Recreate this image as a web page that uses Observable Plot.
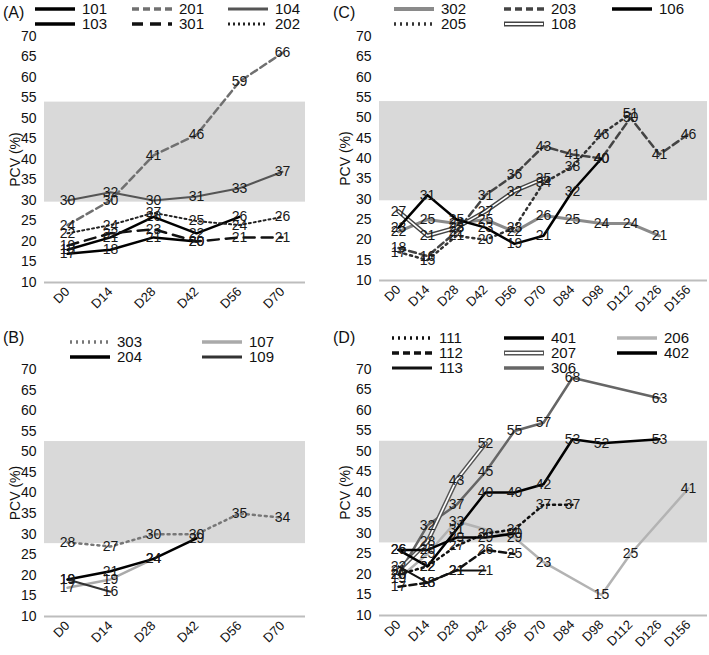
<!DOCTYPE html>
<html>
<head>
<meta charset="utf-8">
<script src="https://cdn.jsdelivr.net/npm/d3@7"></script>
<script src="https://cdn.jsdelivr.net/npm/@observablehq/plot@0.6"></script>
<style>
  body { margin: 0; background: #fff; font-family: "Liberation Sans", Arial, sans-serif; }
  #wrap { position: relative; width: 709px; height: 655px; overflow: hidden; }
  .plabel { position: absolute; font-size: 16px; color: #111; }
  .leg { position: absolute; display: flex; align-items: center; font-size: 15px; line-height: 17px; color: #111; height: 17px; }
  .leg svg { margin-right: 7px; }
  .chart { position: absolute; }
</style>
</head>
<body>
<div id="wrap"></div>
<script>
// days sampled
const daysShort = ["D0", "D14", "D28", "D42", "D56", "D70"];
const daysLong = ["D0", "D14", "D28", "D42", "D56", "D70", "D84", "D98", "D112", "D126", "D156"];

// panel A
const pcv101 = [17, 18, 21, 20];
const pcv103 = [18, 21, 26, 22, 26];
const pcv201 = [24, 30, 41, 46, 59, 66];
const pcv301 = [19, 22, 23, 20, 21, 21];
const pcv104 = [30, 32, 30, 31, 33, 37];
const pcv202 = [22, 24, 27, 25, 24, 26];

// panel B
const pcv303 = [28, 27, 30, 30, 35, 34];
const pcv204 = [19, 21, 24, 29];
const pcv107 = [17, 19, 24];
const pcv109 = [19, 16];

// panel C
const pcv302 = [22, 25, 24, 25, 22, 26, 25, 24, 24, 21];
const pcv203 = [18, 16, 22, 31, 36, 43, 41, 40, 50, 41, 46];
const pcv106 = [23, 31, 25, 23, 19, 21, 32, 40];
const pcv205 = [17, 15, 21, 20, 23, 34, 38, 46, 51];
const pcv108 = [27, 21, 23, 27, 32, 35];

// panel D
const pcv111 = [20, 22, 27, 30, 31, 37, 37];
const pcv112 = [17, 18, 21, 26, 25];
const pcv113 = [22, 18, 21, 21];
const pcv401 = [26, 22, 31, 40, 40, 42, 53, 52, null, 53];
const pcv207 = [21, 28, 43, 52];
const pcv306 = [20, 32, 37, 45, 55, 57, 68, null, null, 63];
const pcv206 = [19, 25, 33, null, 29, 23, null, 15, 25, null, 41];
const pcv402 = [26, 26, 29, 29, 30];

// reference ranges (grey band)
const bandAC = [29.6, 54];
const bandBD = [27.7, 52.5];

const styles = {
  "101": {color: "#000", w: 2.5},
  "103": {color: "#000", w: 2.5},
  "201": {color: "#707070", w: 2.5, dash: "7,4"},
  "301": {color: "#111", w: 2.5, dash: "11,7"},
  "104": {color: "#555", w: 2},
  "202": {color: "#222", w: 2, dash: "2,3"},
  "302": {color: "#8a8a8a", w: 3},
  "203": {color: "#444", w: 2.5, dash: "7,4"},
  "106": {color: "#000", w: 2.5},
  "205": {color: "#333", w: 2.5, dash: "2,4"},
  "108": {color: "#444", w: 4.5, double: true},
  "303": {color: "#777", w: 2.5, dash: "2,4"},
  "107": {color: "#aaa", w: 2.5},
  "204": {color: "#000", w: 2.5},
  "109": {color: "#333", w: 2},
  "111": {color: "#111", w: 2.5, dash: "2,4"},
  "112": {color: "#111", w: 2.5, dash: "7,4"},
  "113": {color: "#111", w: 2},
  "401": {color: "#000", w: 2.5},
  "207": {color: "#555", w: 4.5, double: true},
  "306": {color: "#666", w: 2.5},
  "206": {color: "#b3b3b3", w: 2.5},
  "402": {color: "#000", w: 2.5}
};

const panels = [
  {label: "(A)", lx: 3, ly: 4, days: daysShort, band: bandAC,
   series: [["101", pcv101], ["103", pcv103], ["201", pcv201], ["301", pcv301], ["104", pcv104], ["202", pcv202]],
   legend: [["101", 0, 0], ["201", 1, 0], ["104", 2, 0], ["103", 0, 1], ["301", 1, 1], ["202", 2, 1]],
   cols: [35, 132, 228], rows: [0, 15], legTop: 0,
   left: 0, top: 26, width: 315, mLeft: 44, mRight: 10, area: 246, mBottom: 40, labelOffset: 34},
  {label: "(B)", lx: 3, ly: 329, days: daysShort, band: bandBD,
   series: [["303", pcv303], ["107", pcv107], ["109", pcv109], ["204", pcv204]],
   legend: [["303", 0, 0], ["107", 1, 0], ["204", 0, 1], ["109", 1, 1]],
   cols: [70, 202], rows: [0, 15], legTop: 333,
   left: 0, top: 359, width: 315, mLeft: 44, mRight: 10, area: 247, mBottom: 36, labelOffset: 34},
  {label: "(C)", lx: 333, ly: 4, days: daysLong, band: bandAC,
   series: [["302", pcv302], ["203", pcv203], ["205", pcv205], ["108", pcv108], ["106", pcv106]],
   legend: [["302", 0, 0], ["203", 1, 0], ["106", 2, 0], ["205", 0, 1], ["108", 1, 1]],
   cols: [394, 504, 612], rows: [0, 15], legTop: 0,
   left: 330, top: 26, width: 379, mLeft: 49, mRight: 2, area: 244, mBottom: 42, labelOffset: 39},
  {label: "(D)", lx: 333, ly: 329, days: daysLong, band: bandBD,
   series: [["206", pcv206], ["306", pcv306], ["207", pcv207], ["111", pcv111], ["112", pcv112], ["113", pcv113], ["402", pcv402], ["401", pcv401]],
   legend: [["111", 0, 0], ["401", 1, 0], ["206", 2, 0], ["112", 0, 1], ["207", 1, 1], ["402", 2, 1], ["113", 0, 2], ["306", 1, 2]],
   cols: [392, 504, 617], rows: [0, 15, 30], legTop: 329,
   left: 330, top: 359, width: 379, mLeft: 49, mRight: 2, area: 246, mBottom: 36, labelOffset: 39}
];

const wrap = d3.select("#wrap");

function swatch(sel, st) {
  const svg = sel.append("svg").attr("width", 40).attr("height", 8);
  if (st.double) {
    svg.append("line").attr("x1", 0).attr("x2", 40).attr("y1", 4).attr("y2", 4)
      .attr("stroke", st.color).attr("stroke-width", 5);
    svg.append("line").attr("x1", 1).attr("x2", 39).attr("y1", 4).attr("y2", 4)
      .attr("stroke", "#fff").attr("stroke-width", 2);
  } else {
    svg.append("line").attr("x1", 0).attr("x2", 40).attr("y1", 4).attr("y2", 4)
      .attr("stroke", st.color).attr("stroke-width", st.w + 1)
      .attr("stroke-dasharray", st.dash || null);
  }
}

panels.forEach(p => {
  wrap.append("div").attr("class", "plabel").style("left", p.lx + "px").style("top", p.ly + "px").text(p.label);

  p.legend.forEach(([id, c, r]) => {
    const item = wrap.append("div").attr("class", "leg")
      .style("left", p.cols[c] + "px").style("top", (p.legTop + p.rows[r]) + "px");
    swatch(item, styles[id]);
    item.append("span").text(id);
  });

  const rows = [];
  p.series.forEach(([id, vals]) => vals.forEach((v, i) => {
    if (v != null) rows.push({id, day: p.days[i], v});
  }));

  const marks = [
    Plot.rect([p.band], {y1: d => d[0], y2: d => d[1], fill: "#d9d9d9"}),
    Plot.ruleY([10], {stroke: "#bdbdbd", strokeWidth: 2})
  ];
  p.series.forEach(([id]) => {
    const st = styles[id];
    const data = rows.filter(d => d.id === id);
    marks.push(Plot.line(data, {x: "day", y: "v", stroke: st.color, strokeWidth: st.w, strokeDasharray: st.dash}));
    if (st.double) marks.push(Plot.line(data, {x: "day", y: "v", stroke: "#fff", strokeWidth: 1.6}));
  });
  marks.push(Plot.text(rows, {x: "day", y: "v", text: "v", fontSize: 14, fill: "#1a1a1a"}));
  marks.push(Plot.axisY({ticks: d3.range(10, 71, 5), tickSize: 0, tickPadding: 8, fontSize: 14,
    label: "PCV (%)", labelAnchor: "center", labelArrow: "none", labelOffset: p.labelOffset}));
  marks.push(Plot.axisX({tickRotate: -45, tickSize: 0, tickPadding: 7, fontSize: 13, label: null}));

  const chart = Plot.plot({
    width: p.width,
    height: 10 + p.area + p.mBottom,
    marginTop: 10,
    marginLeft: p.mLeft,
    marginRight: p.mRight,
    marginBottom: p.mBottom,
    style: {fontFamily: "Liberation Sans, Arial, sans-serif", fontSize: "13px", color: "#111", background: "transparent"},
    x: {type: "point", domain: p.days, padding: 0.5},
    y: {domain: [10, 70]},
    marks
  });

  wrap.append("div").attr("class", "chart").style("left", p.left + "px").style("top", p.top + "px")
    .append(() => chart);
});
</script>
</body>
</html>
